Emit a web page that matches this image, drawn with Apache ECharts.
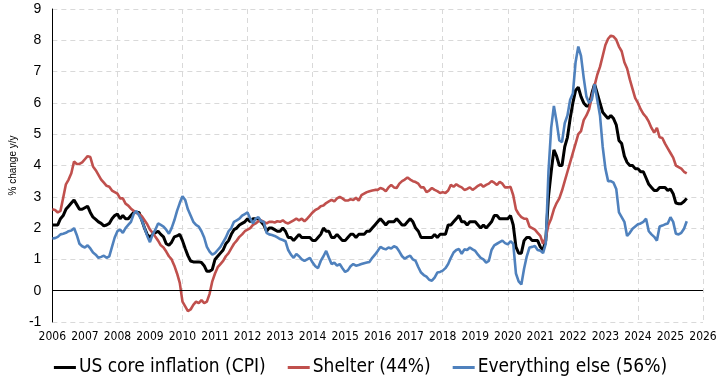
<!DOCTYPE html>
<html>
<head>
<meta charset="utf-8">
<script src="https://cdn.jsdelivr.net/npm/echarts@6/dist/echarts.min.js"></script>
<style>
html,body{margin:0;padding:0;background:#fff;}
#chart{width:721px;height:382px;}
</style>
</head>
<body>
<div id="chart"></div>
<script>
// Monthly data, Jan 2006 .. Jul 2025 (% change y/y)
const startYear = 2006;
const seriesNames = ['US core inflation (CPI)', 'Shelter (44%)', 'Everything else (56%)'];
const yearTicks = [2006,2007,2008,2009,2010,2011,2012,2013,2014,2015,2016,2017,2018,2019,2020,2021,2022,2023,2024,2025,2026];
const yTicks = [-1,0,1,2,3,4,5,6,7,8,9];

const core = [
2.1,2.1,2.1,2.3,2.4,2.6,2.7,2.8,2.9,2.75,2.6,2.6,
2.65,2.7,2.5,2.35,2.28,2.2,2.15,2.07,2.1,2.15,2.3,2.4,
2.45,2.3,2.4,2.3,2.3,2.4,2.5,2.5,2.5,2.25,2.0,1.8,
1.7,1.8,1.85,1.9,1.8,1.72,1.5,1.45,1.55,1.72,1.75,1.8,
1.6,1.35,1.12,0.95,0.92,0.92,0.92,0.9,0.8,0.62,0.62,0.68,
1.0,1.1,1.2,1.3,1.5,1.6,1.8,1.95,2.0,2.1,2.15,2.2,
2.3,2.2,2.3,2.3,2.3,2.2,2.1,1.9,2.0,2.0,1.95,1.9,
1.9,2.0,1.9,1.7,1.7,1.6,1.7,1.8,1.7,1.7,1.7,1.7,
1.6,1.6,1.7,1.8,2.0,1.9,1.9,1.7,1.7,1.8,1.7,1.6,
1.6,1.7,1.8,1.8,1.7,1.8,1.8,1.8,1.9,1.9,2.0,2.1,
2.2,2.3,2.2,2.1,2.2,2.2,2.2,2.3,2.2,2.1,2.1,2.2,
2.3,2.2,2.0,1.9,1.7,1.7,1.7,1.7,1.7,1.8,1.7,1.8,
1.8,1.8,2.1,2.1,2.2,2.3,2.4,2.2,2.2,2.1,2.2,2.2,
2.2,2.1,2.0,2.1,2.0,2.1,2.2,2.4,2.4,2.3,2.3,2.3,
2.3,2.4,2.1,1.4,1.2,1.2,1.6,1.7,1.7,1.6,1.6,1.6,
1.4,1.3,1.6,3.0,3.8,4.5,4.3,4.0,4.0,4.6,4.9,5.5,
6.0,6.4,6.5,6.2,6.0,5.9,5.9,6.3,6.6,6.3,6.0,5.7,
5.6,5.5,5.6,5.5,5.3,4.8,4.7,4.3,4.1,4.0,4.0,3.9,
3.9,3.8,3.8,3.6,3.4,3.3,3.2,3.2,3.3,3.3,3.3,3.2,
3.25,3.1,2.8,2.78,2.78,2.85,2.95
];

const shelter = [
2.6,2.58,2.5,2.55,2.97,3.4,3.55,3.75,4.13,4.05,4.05,4.1,
4.2,4.3,4.27,3.97,3.85,3.7,3.55,3.45,3.35,3.32,3.2,3.15,
3.1,2.95,2.95,2.78,2.72,2.62,2.55,2.48,2.45,2.38,2.25,2.12,
1.95,1.85,1.72,1.6,1.45,1.38,1.25,1.1,1.0,0.8,0.55,0.25,
-0.35,-0.5,-0.65,-0.6,-0.45,-0.35,-0.4,-0.3,-0.4,-0.35,-0.1,0.3,
0.55,0.75,0.85,0.95,1.1,1.2,1.35,1.5,1.6,1.72,1.8,1.9,
1.95,2.0,2.1,2.15,2.22,2.25,2.2,2.15,2.2,2.2,2.18,2.22,
2.2,2.25,2.18,2.15,2.2,2.25,2.3,2.25,2.3,2.22,2.3,2.4,
2.5,2.58,2.62,2.7,2.72,2.8,2.85,2.9,2.85,2.95,3.0,2.95,
2.88,2.88,2.92,2.9,2.97,2.88,3.05,3.1,3.15,3.18,3.2,3.22,
3.22,3.28,3.25,3.18,3.3,3.38,3.3,3.28,3.42,3.5,3.55,3.62,
3.55,3.5,3.47,3.42,3.3,3.3,3.15,3.2,3.28,3.22,3.18,3.12,
3.15,3.12,3.2,3.38,3.32,3.4,3.34,3.3,3.22,3.25,3.3,3.22,
3.28,3.35,3.4,3.32,3.38,3.42,3.5,3.45,3.38,3.48,3.42,3.3,
3.3,3.32,3.05,2.6,2.45,2.35,2.3,2.3,2.05,2.0,1.95,1.85,
1.75,1.5,1.7,2.1,2.3,2.6,2.8,2.95,3.2,3.5,3.8,4.1,
4.4,4.7,5.0,5.1,5.45,5.6,5.8,6.2,6.55,6.9,7.15,7.5,
7.85,8.05,8.15,8.12,8.02,7.8,7.65,7.3,7.1,6.75,6.45,6.15,
6.0,5.8,5.65,5.55,5.4,5.2,5.05,5.2,4.9,4.88,4.7,4.55,
4.4,4.25,4.0,3.95,3.9,3.8,3.75
];

const other = [
1.67,1.68,1.72,1.8,1.82,1.85,1.9,1.92,2.0,1.78,1.5,1.42,
1.38,1.45,1.35,1.22,1.15,1.05,1.08,1.12,1.05,1.1,1.4,1.7,
1.9,1.95,1.85,2.0,2.1,2.2,2.45,2.55,2.4,2.25,2.0,1.75,
1.55,1.8,1.95,2.15,2.1,2.05,1.95,1.82,2.0,2.25,2.55,2.8,
3.02,2.9,2.6,2.4,2.2,2.1,2.05,1.9,1.7,1.4,1.25,1.15,
1.2,1.3,1.4,1.55,1.7,1.9,2.0,2.2,2.25,2.3,2.4,2.45,
2.5,2.3,2.15,2.3,2.35,2.22,2.2,1.85,1.8,1.78,1.75,1.7,
1.65,1.62,1.58,1.3,1.15,1.05,1.17,1.1,1.0,0.95,1.0,1.05,
0.9,0.78,0.72,0.95,1.1,1.27,1.05,0.85,0.9,0.8,0.85,0.72,
0.6,0.65,0.78,0.85,0.8,0.82,0.85,0.88,0.9,0.92,1.05,1.15,
1.27,1.4,1.35,1.32,1.38,1.35,1.42,1.38,1.25,1.1,1.02,1.08,
1.12,1.0,0.95,0.75,0.58,0.5,0.45,0.35,0.32,0.42,0.58,0.6,
0.64,0.72,0.85,1.05,1.22,1.3,1.33,1.18,1.32,1.3,1.38,1.32,
1.27,1.15,1.05,1.0,0.9,0.95,1.3,1.45,1.5,1.55,1.6,1.52,
1.48,1.58,1.5,0.55,0.3,0.2,0.7,1.1,1.38,1.4,1.43,1.3,
1.28,1.2,1.5,3.8,5.2,5.9,5.4,4.8,4.75,5.35,5.6,6.1,
6.3,7.3,7.8,7.5,6.8,6.2,6.0,6.1,6.6,6.1,5.6,4.6,
3.9,3.5,3.5,3.45,3.25,2.5,2.35,2.2,1.75,1.85,1.98,2.05,
2.12,2.15,2.2,2.3,1.9,1.8,1.72,1.6,2.05,2.08,2.12,2.15,
2.35,2.2,1.82,1.8,1.85,1.98,2.22
];

function toPairs(arr){ return arr.map((v,i)=>[startYear + i/12, v]); }

const NARROW = '"Liberation Sans Narrow","Arial Narrow","DejaVu Sans Condensed",sans-serif';
const REG = '"Liberation Sans",Arial,sans-serif';
const gridDash = {color:'#d9d9d9', width:1, type:[5,4]};

const chart = echarts.init(document.getElementById('chart'), null, {renderer:'canvas'});
chart.setOption({
  animation:false,
  backgroundColor:'#fff',
  grid:{left:49, right:18, top:9, bottom:60, containLabel:false},
  legend:{
    bottom:0, left:'center',
    itemWidth:22, itemHeight:3, itemGap:22,
    icon:'rect',
    textStyle:{fontFamily:NARROW, fontSize:19, color:'#000', padding:[0,0,0,-2]},
    data:seriesNames
  },
  xAxis:[{
    type:'value', min:yearTicks[0], max:yearTicks[yearTicks.length-1], interval:1,
    axisLine:{show:false, onZero:false}, axisTick:{show:false},
    splitLine:{show:false},
    axisLabel:{fontFamily:NARROW, fontSize:12, color:'#000', margin:9, formatter:v=>String(v)}
  },{
    type:'value', min:yearTicks[0], max:yearTicks[yearTicks.length-1], interval:2,
    axisLine:{show:false, onZero:false}, axisTick:{show:false}, axisLabel:{show:false},
    splitLine:{show:true, lineStyle:gridDash}
  }],
  yAxis:{
    type:'value', min:yTicks[0], max:yTicks[yTicks.length-1], interval:1,
    name:'% change y/y', nameLocation:'middle', nameGap:31, nameRotate:90,
    nameTextStyle:{fontFamily:REG, fontSize:10, color:'#000'},
    axisLine:{show:true, onZero:false, lineStyle:{color:'#000', width:1}},
    axisTick:{show:false},
    axisLabel:{fontFamily:REG, fontSize:14, color:'#000', margin:11},
    splitLine:{show:true, lineStyle:gridDash}
  },
  series:[
    {name:seriesNames[0], type:'line', data:toPairs(core), showSymbol:false, symbol:'none',
     lineStyle:{color:'#000', width:3}, itemStyle:{color:'#000'},
     markLine:{silent:true, symbol:'none', label:{show:false},
       lineStyle:{color:'#000', width:1, type:'solid'}, data:[{yAxis:0}]}},
    {name:seriesNames[1], type:'line', data:toPairs(shelter), showSymbol:false, symbol:'none',
     lineStyle:{color:'#C0504D', width:2.6}, itemStyle:{color:'#C0504D'}},
    {name:seriesNames[2], type:'line', data:toPairs(other), showSymbol:false, symbol:'none',
     lineStyle:{color:'#4F81BD', width:2.6}, itemStyle:{color:'#4F81BD'}}
  ]
});
</script>
</body>
</html>
